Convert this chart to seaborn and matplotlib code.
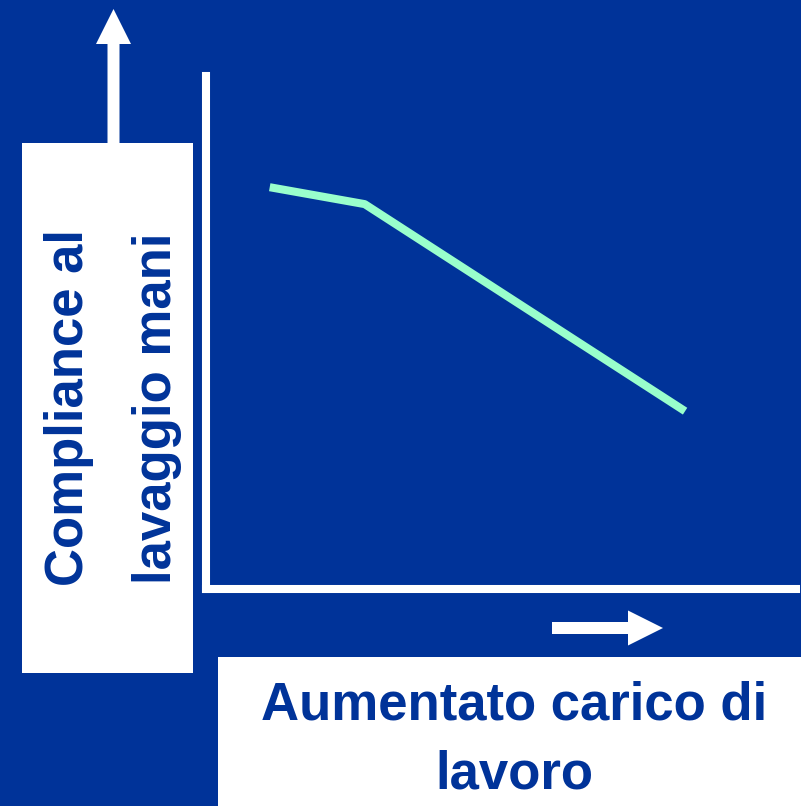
import matplotlib
matplotlib.use('Agg')
import seaborn as sns
import matplotlib.pyplot as plt
from matplotlib.patches import Rectangle, FancyArrow

# Values (axis scale 0-100, no ticks shown)
carico_lavoro = [10.8, 26.9, 81.2]
compliance = [78.3, 75.0, 34.6]

y_label = 'Compliance al\nlavaggio mani'
x_label = 'Aumentato carico di\nlavoro'

BLUE = '#003399'
MINT = '#99FFCC'
W, H = 801, 806


def create_chart():
    sns.set_style('white')
    plt.rcParams['font.family'] = ['Liberation Sans', 'DejaVu Sans']

    fig = plt.figure(figsize=(W / 100, H / 100), dpi=100, facecolor=BLUE)

    # Background layer in pixel coordinates for boxes, arrows and labels
    bg = fig.add_axes([0, 0, 1, 1])
    bg.set_xlim(0, W)
    bg.set_ylim(H, 0)
    bg.axis('off')
    bg.set_facecolor(BLUE)

    bg.add_patch(Rectangle((22, 143), 171, 530, fc='white', ec='none'))
    bg.add_patch(Rectangle((218, 657), 600, 160, fc='white', ec='none'))
    bg.add_patch(FancyArrow(113.5, 143, 0, -134, width=12, head_width=35,
                            head_length=35, length_includes_head=True,
                            fc='white', ec='none'))
    bg.add_patch(FancyArrow(552, 628, 111, 0, width=12, head_width=35,
                            head_length=35, length_includes_head=True,
                            fc='white', ec='none'))

    bg.text(113, 408, y_label, rotation=90, ha='center', va='center',
            multialignment='center', fontsize=38, fontweight='bold',
            color=BLUE, linespacing=1.95)
    bg.text(514, 740, x_label, ha='center', va='center',
            multialignment='center', fontsize=38, fontweight='bold',
            color=BLUE, linespacing=1.47)

    # Main plot area
    ax = fig.add_axes([206 / W, 1 - 588.5 / H, (796 - 206) / W, (588.5 - 76) / H])
    sns.lineplot(x=carico_lavoro, y=compliance, ax=ax, color=MINT,
                 linewidth=5.8, solid_capstyle='butt', solid_joinstyle='bevel')
    ax.set_xlim(0, 100)
    ax.set_ylim(0, 100)
    ax.patch.set_alpha(0)
    ax.set_xticks([])
    ax.set_yticks([])
    for side in ['top', 'right']:
        ax.spines[side].set_visible(False)
    for side in ['left', 'bottom']:
        ax.spines[side].set_color('white')
        ax.spines[side].set_linewidth(5.8)

    fig.savefig('out.png', dpi=100, facecolor=BLUE)
    plt.close(fig)


if __name__ == "__main__":
    create_chart()
